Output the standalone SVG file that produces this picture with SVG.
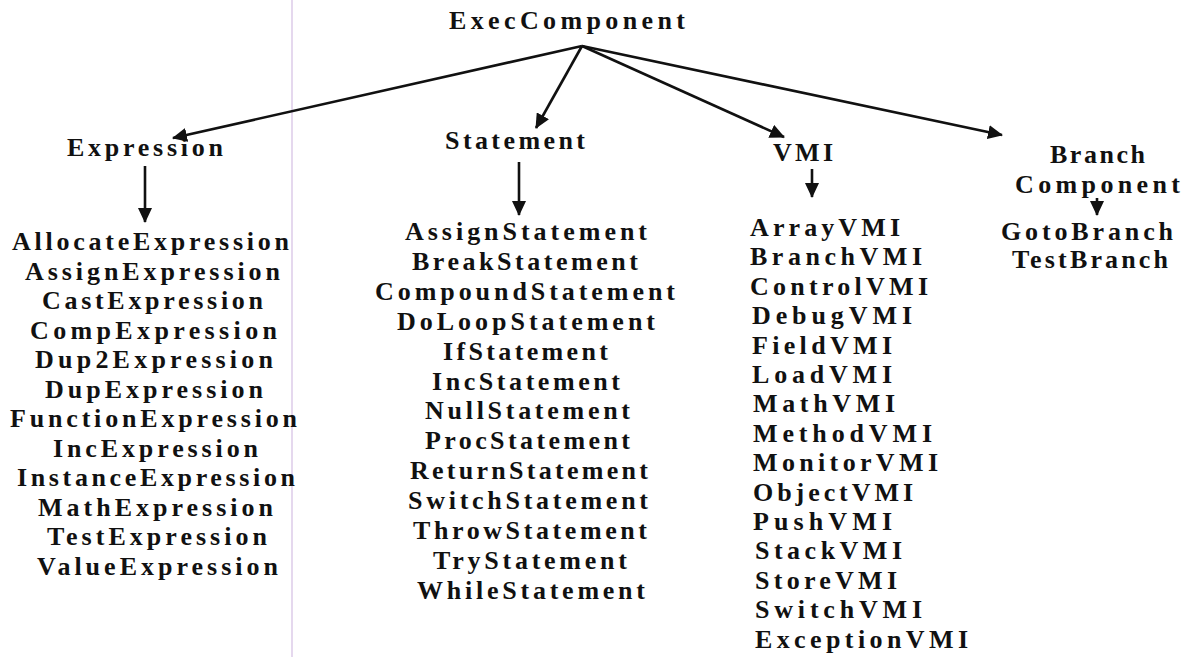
<svg xmlns="http://www.w3.org/2000/svg" width="1193" height="657" viewBox="0 0 1193 657">
<defs>
<style>
.t{font-family:"Liberation Serif","Times New Roman",serif;font-weight:bold;font-size:26px;fill:#111;}
.c{stroke:#111;stroke-width:2.6;fill:none;}
</style>
<marker id="ah" markerUnits="userSpaceOnUse" markerWidth="16" markerHeight="14" refX="14" refY="7" orient="auto">
<path d="M0,0 L15,7 L0,14 Z" fill="#111"/>
</marker>
</defs>
<rect width="1193" height="657" fill="#fff"/>
<line x1="292" y1="0" x2="292" y2="657" stroke="#dccbe9" stroke-width="1.5"/>
<g id="connectors">
<line class="c" x1="582" y1="46" x2="173" y2="138" marker-end="url(#ah)"/>
<line class="c" x1="582" y1="46" x2="536" y2="128" marker-end="url(#ah)"/>
<line class="c" x1="582" y1="46" x2="784" y2="137" marker-end="url(#ah)"/>
<line class="c" x1="582" y1="46" x2="1002" y2="135" marker-end="url(#ah)"/>
<line class="c" x1="145" y1="166" x2="145" y2="222" marker-end="url(#ah)"/>
<line class="c" x1="519" y1="162" x2="519" y2="215" marker-end="url(#ah)"/>
<line class="c" x1="812" y1="169" x2="812" y2="197" marker-end="url(#ah)"/>
<line class="c" x1="1097" y1="198" x2="1097" y2="215" marker-end="url(#ah)"/>
</g>
<g id="ExecComponent"><text class="t" x="449" y="29" textLength="236" lengthAdjust="spacing">ExecComponent</text></g>
<g id="Expression">
<text class="t" x="67" y="156" textLength="156" lengthAdjust="spacing">Expression</text>
<text class="t" x="12" y="250" textLength="277" lengthAdjust="spacing">AllocateExpression</text>
<text class="t" x="25" y="279.5" textLength="255" lengthAdjust="spacing">AssignExpression</text>
<text class="t" x="42" y="309" textLength="221" lengthAdjust="spacing">CastExpression</text>
<text class="t" x="30" y="338.5" textLength="247" lengthAdjust="spacing">CompExpression</text>
<text class="t" x="35" y="368" textLength="238" lengthAdjust="spacing">Dup2Expression</text>
<text class="t" x="45" y="397.5" textLength="218" lengthAdjust="spacing">DupExpression</text>
<text class="t" x="10" y="427" textLength="287" lengthAdjust="spacing">FunctionExpression</text>
<text class="t" x="53" y="456.5" textLength="205" lengthAdjust="spacing">IncExpression</text>
<text class="t" x="17" y="486" textLength="278" lengthAdjust="spacing">InstanceExpression</text>
<text class="t" x="38" y="515.5" textLength="235" lengthAdjust="spacing">MathExpression</text>
<text class="t" x="47" y="545" textLength="220" lengthAdjust="spacing">TestExpression</text>
<text class="t" x="37" y="574.5" textLength="241" lengthAdjust="spacing">ValueExpression</text>
</g>
<g id="Statement">
<text class="t" x="445" y="149" textLength="140" lengthAdjust="spacing">Statement</text>
<text class="t" x="405" y="240" textLength="242" lengthAdjust="spacing">AssignStatement</text>
<text class="t" x="412" y="270" textLength="226" lengthAdjust="spacing">BreakStatement</text>
<text class="t" x="375" y="300" textLength="300" lengthAdjust="spacing">CompoundStatement</text>
<text class="t" x="397" y="330" textLength="258" lengthAdjust="spacing">DoLoopStatement</text>
<text class="t" x="443" y="360" textLength="165" lengthAdjust="spacing">IfStatement</text>
<text class="t" x="432" y="390" textLength="188" lengthAdjust="spacing">IncStatement</text>
<text class="t" x="425" y="419" textLength="205" lengthAdjust="spacing">NullStatement</text>
<text class="t" x="425" y="449" textLength="205" lengthAdjust="spacing">ProcStatement</text>
<text class="t" x="410" y="479" textLength="238" lengthAdjust="spacing">ReturnStatement</text>
<text class="t" x="408" y="509" textLength="240" lengthAdjust="spacing">SwitchStatement</text>
<text class="t" x="413" y="539" textLength="234" lengthAdjust="spacing">ThrowStatement</text>
<text class="t" x="433" y="569" textLength="194" lengthAdjust="spacing">TryStatement</text>
<text class="t" x="417" y="599" textLength="228" lengthAdjust="spacing">WhileStatement</text>
</g>
<g id="VMI">
<text class="t" x="773" y="161" textLength="60" lengthAdjust="spacing">VMI</text>
<text class="t" x="750" y="236" textLength="150" lengthAdjust="spacing">ArrayVMI</text>
<text class="t" x="750" y="265.4" textLength="172" lengthAdjust="spacing">BranchVMI</text>
<text class="t" x="750" y="294.8" textLength="178" lengthAdjust="spacing">ControlVMI</text>
<text class="t" x="752" y="324.2" textLength="160" lengthAdjust="spacing">DebugVMI</text>
<text class="t" x="752" y="353.6" textLength="140" lengthAdjust="spacing">FieldVMI</text>
<text class="t" x="752" y="383" textLength="140" lengthAdjust="spacing">LoadVMI</text>
<text class="t" x="753" y="412.4" textLength="142" lengthAdjust="spacing">MathVMI</text>
<text class="t" x="753" y="441.8" textLength="179" lengthAdjust="spacing">MethodVMI</text>
<text class="t" x="753" y="471.2" textLength="185" lengthAdjust="spacing">MonitorVMI</text>
<text class="t" x="753" y="500.6" textLength="160" lengthAdjust="spacing">ObjectVMI</text>
<text class="t" x="753" y="530" textLength="139" lengthAdjust="spacing">PushVMI</text>
<text class="t" x="755" y="559.4" textLength="147" lengthAdjust="spacing">StackVMI</text>
<text class="t" x="755" y="588.8" textLength="142" lengthAdjust="spacing">StoreVMI</text>
<text class="t" x="755" y="618.2" textLength="167" lengthAdjust="spacing">SwitchVMI</text>
<text class="t" x="755" y="647.6" textLength="213" lengthAdjust="spacing">ExceptionVMI</text>
</g>
<g id="BranchComponent">
<text class="t" x="1050" y="163" textLength="95" lengthAdjust="spacing">Branch</text>
<text class="t" x="1015" y="193" textLength="165" lengthAdjust="spacing">Component</text>
<text class="t" x="1001" y="240" textLength="172" lengthAdjust="spacing">GotoBranch</text>
<text class="t" x="1012" y="268" textLength="156" lengthAdjust="spacing">TestBranch</text>
</g>
</svg>
